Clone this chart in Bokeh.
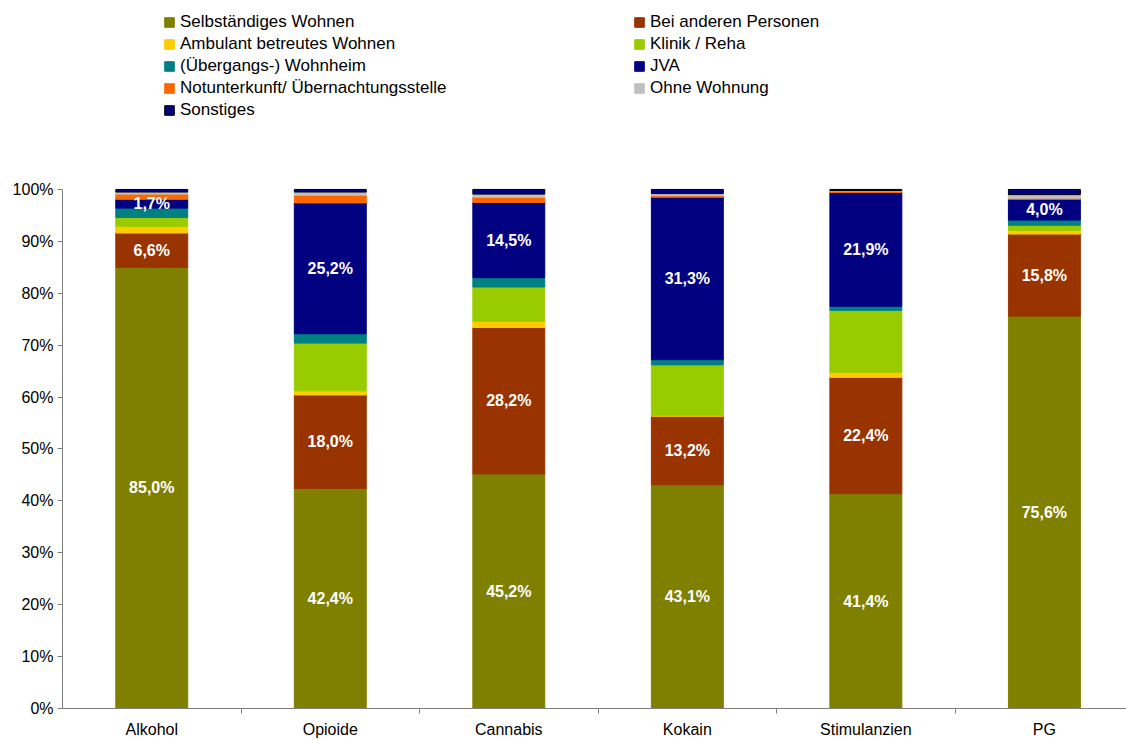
from bokeh.plotting import figure
from bokeh.models import ColumnDataSource, Legend, LegendItem, FixedTicker, Range1d
from bokeh.core.properties import value
from bokeh.embed import file_html
from bokeh.resources import INLINE

categories = ["Alkohol", "Opioide", "Cannabis", "Kokain", "Stimulanzien", "PG"]
series = ["Selbständiges Wohnen", "Bei anderen Personen", "Ambulant betreutes Wohnen",
          "Klinik / Reha", "(Übergangs-) Wohnheim", "JVA",
          "Notunterkunft/ Übernachtungsstelle", "Ohne Wohnung", "Sonstiges"]
selbstaendig = [85.0, 42.4, 45.2, 43.1, 41.4, 75.6]
bei_anderen = [6.6, 18.0, 28.2, 13.2, 22.4, 15.8]
ambulant = [1.3, 0.8, 1.2, 0.2, 1.0, 0.7]
klinik = [1.7, 9.2, 6.6, 9.7, 11.9, 1.0]
wohnheim = [1.8, 1.8, 1.8, 1.0, 0.8, 1.0]
jva = [1.7, 25.2, 14.5, 31.3, 21.9, 4.0]
notunterkunft = [1.0, 1.5, 1.0, 0.3, 0.3, 0.2]
ohne_wohnung = [0.4, 0.6, 0.6, 0.4, 0.1, 0.7]
sonstiges = [0.5, 0.5, 0.9, 0.8, 0.2, 1.0]
labelled = ["Selbständiges Wohnen", "Bei anderen Personen", "JVA"]
y_ticks = [0, 10, 20, 30, 40, 50, 60, 70, 80, 90, 100]

colors = ["#808000", "#993300", "#FFCC00", "#99CC00", "#008080", "#000080",
          "#FF6600", "#C0C0C0", "#000080"]
line_colors = colors[:-1] + ["#000000"]
FONT = "Liberation Sans"

values = [selbstaendig, bei_anderen, ambulant, klinik, wohnheim, jva,
          notunterkunft, ohne_wohnung, sonstiges]
xs = [i + 0.5 for i in range(len(categories))]
data = {"x": xs}
for s, v in zip(series, values):
    data[s] = v
source = ColumnDataSource(data)

p = figure(width=1126, height=740, output_backend="svg", toolbar_location=None,
           x_range=Range1d(0, 5.96), y_range=Range1d(0, 136.4),
           min_border_left=62, min_border_right=0, min_border_top=0,
           min_border_bottom=32)
p.outline_line_color = None
p.xgrid.visible = False
p.ygrid.visible = False

renderers = p.vbar_stack(series, x="x", width=0.403, source=source,
                         fill_color=colors, line_color=line_colors, line_width=1)

# value labels
lx, ly, lt = [], [], []
for i in range(len(categories)):
    base = 0.0
    for s, v in zip(series, values):
        if s in labelled:
            lx.append(xs[i])
            ly.append(base + v[i] / 2)
            lt.append(f"{v[i]:.1f}".replace(".", ",") + "%")
        base += v[i]
p.text(x=lx, y=ly, text=lt, text_color="white", text_font=value(FONT),
       text_font_size="16px", text_font_style="bold", text_align="center",
       text_baseline="middle")

# axes
p.yaxis.ticker = FixedTicker(ticks=y_ticks)
p.yaxis.major_label_overrides = {t: f"{t}%" for t in y_ticks}
p.yaxis.bounds = (0, 100)
p.yaxis.axis_line_color = "#808080"
p.yaxis.major_tick_line_color = "#808080"
p.yaxis.major_tick_out = 5
p.yaxis.major_tick_in = 0
p.yaxis.minor_tick_line_color = None
p.yaxis.major_label_text_font = FONT
p.yaxis.major_label_text_font_size = "16px"
p.yaxis.major_label_text_color = "#000000"
p.yaxis.major_label_standoff = 4

p.xaxis.ticker = FixedTicker(ticks=xs, minor_ticks=[1, 2, 3, 4, 5])
p.xaxis.major_label_overrides = {x: c for x, c in zip(xs, categories)}
p.xaxis.axis_line_color = "#808080"
p.xaxis.major_tick_line_color = None
p.xaxis.minor_tick_line_color = "#808080"
p.xaxis.minor_tick_out = 5
p.xaxis.minor_tick_in = 0
p.xaxis.major_label_text_font = FONT
p.xaxis.major_label_text_font_size = "16px"
p.xaxis.major_label_text_color = "#000000"
p.xaxis.major_label_standoff = 6

# legends (two columns, row-major order)
left_idx = [0, 2, 4, 6, 8]
right_idx = [1, 3, 5, 7]
PITCH = 22

def make_legend(idx, x, y):
    lg = Legend(items=[LegendItem(label=series[i], renderers=[renderers[i]]) for i in idx],
                location=(x, y), orientation="vertical")
    lg.border_line_color = None
    lg.background_fill_alpha = 0
    lg.padding = 0
    lg.margin = 0
    lg.spacing = PITCH - 20
    lg.glyph_width = 12
    lg.glyph_height = 12
    lg.label_height = 20
    lg.label_standoff = 5
    lg.label_text_font = FONT
    lg.label_text_font_size = "17px"
    lg.label_text_color = "#000000"
    lg.label_text_baseline = "middle"
    return lg

p.add_layout(make_legend(left_idx, 163 - 62, 708 - 120), "center")
p.add_layout(make_legend(right_idx, 633 - 62, 708 - 120 + PITCH), "center")

open("out.html", "w").write(file_html(p, INLINE))
